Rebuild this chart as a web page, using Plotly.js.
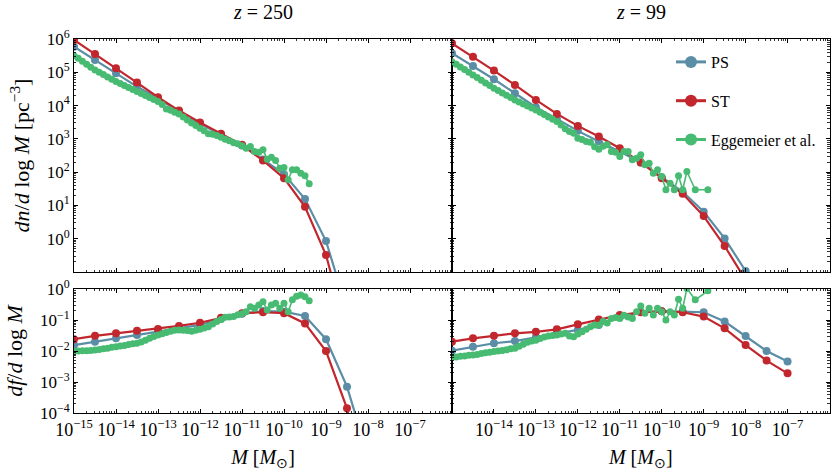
<!DOCTYPE html>
<html><head><meta charset="utf-8">
<script src="https://cdn.plot.ly/plotly-3.0.1.min.js"></script>
<style>html,body{margin:0;padding:0;background:#fff}#chart{width:834px;height:471px}</style>
</head><body><div id="chart"></div>
<script>
// ---- data (log10 values) ----
// analytic halo mass functions, z = 250 (left column)
const logM_z250 = [-15,-14.5,-14,-13.5,-13,-12.5,-12,-11.5,-11,-10.5,-10,-9.5,-9,-8.5,-8];
const PS_dn_z250 = [5.77,5.37,4.97,4.57,4.22,3.82,3.45,3.12,2.80,2.38,1.94,1.19,-0.07,-2.14,-4.9];
const ST_dn_z250 = [5.97,5.55,5.12,4.69,4.25,3.85,3.49,3.15,2.82,2.35,1.82,0.96,-0.49,-2.83,-6.0];
const PS_df_z250 = [-1.81,-1.70,-1.59,-1.48,-1.38,-1.27,-1.16,-0.97,-0.80,-0.71,-0.73,-0.87,-1.62,-3.15,-5.4];
const ST_df_z250 = [-1.62,-1.51,-1.43,-1.35,-1.29,-1.19,-1.09,-0.93,-0.78,-0.75,-0.78,-1.11,-2.00,-3.85,-7.0];

// analytic halo mass functions, z = 99 (right column)
const logM_z99 = [-15,-14.5,-14,-13.5,-13,-12.5,-12,-11.5,-11,-10.5,-10,-9.5,-9,-8.5,-8,-7.5,-7];
const PS_dn_z99 = [5.57,5.19,4.79,4.37,3.95,3.60,3.24,2.92,2.62,2.29,1.85,1.41,0.81,0.01,-0.97,-1.93,-2.77];
const ST_dn_z99 = [5.87,5.47,5.05,4.62,4.17,3.75,3.39,3.07,2.72,2.29,1.82,1.35,0.68,-0.22,-1.24,-2.24,-3.15];
const PS_df_z99 = [-1.99,-1.86,-1.75,-1.68,-1.56,-1.42,-1.32,-1.16,-0.91,-0.74,-0.72,-0.73,-0.75,-1.05,-1.52,-2.00,-2.34];
const ST_df_z99 = [-1.70,-1.59,-1.51,-1.43,-1.38,-1.30,-1.14,-0.98,-0.84,-0.75,-0.72,-0.75,-0.89,-1.27,-1.81,-2.31,-2.72];

// Eggemeier et al. simulation, z = 250
const logM_egg_z250 = [-15.0,-14.9,-14.8,-14.7,-14.6,-14.5,-14.4,-14.3,-14.2,-14.1,-14.0,-13.9,-13.8,-13.7,-13.6,-13.5,-13.4,-13.3,-13.2,-13.1,-13.0,-12.9,-12.8,-12.7,-12.6,-12.5,-12.4,-12.3,-12.2,-12.1,-12.0,-11.9,-11.8,-11.7,-11.6,-11.5,-11.4,-11.3,-11.2,-11.1,-11.0,-10.9,-10.8,-10.7,-10.6,-10.5,-10.4,-10.3,-10.2,-10.1,-10.0,-9.9,-9.8,-9.7,-9.6,-9.5,-9.4];
const Egg_dn_z250 = [5.50,5.42,5.33,5.24,5.15,5.07,5.00,4.93,4.86,4.79,4.72,4.66,4.60,4.54,4.48,4.42,4.36,4.30,4.24,4.18,4.12,4.03,3.90,3.86,3.80,3.75,3.66,3.57,3.48,3.40,3.32,3.24,3.15,3.14,3.10,3.05,2.99,2.94,2.88,2.85,2.79,2.72,2.77,2.62,2.60,2.67,2.39,2.45,2.35,2.12,2.14,1.77,2.07,2.07,1.97,1.89,1.65];
const Egg_df_z250 = [-2.00,-2.00,-1.99,-1.99,-1.98,-1.97,-1.95,-1.93,-1.91,-1.88,-1.86,-1.84,-1.82,-1.79,-1.77,-1.75,-1.71,-1.65,-1.59,-1.53,-1.48,-1.44,-1.40,-1.36,-1.33,-1.32,-1.33,-1.34,-1.36,-1.33,-1.30,-1.26,-1.22,-1.13,-1.05,-0.98,-0.91,-0.90,-0.89,-0.83,-0.80,-0.73,-0.57,-0.62,-0.52,-0.41,-0.68,-0.52,-0.46,-0.62,-0.46,-0.73,-0.35,-0.23,-0.19,-0.25,-0.38];

// Eggemeier et al. simulation, z = 99
const logM_egg_z99 = [-15.0,-14.9,-14.8,-14.7,-14.6,-14.5,-14.4,-14.3,-14.2,-14.1,-14.0,-13.9,-13.8,-13.7,-13.6,-13.5,-13.4,-13.3,-13.2,-13.1,-13.0,-12.9,-12.8,-12.7,-12.6,-12.5,-12.4,-12.3,-12.2,-12.1,-12.0,-11.9,-11.8,-11.7,-11.6,-11.5,-11.4,-11.3,-11.2,-11.1,-11.0,-10.9,-10.8,-10.7,-10.6,-10.5,-10.4,-10.3,-10.2,-10.1,-10.0,-9.9,-9.8,-9.7,-9.6,-9.5,-9.4,-9.2,-8.9];
const Egg_dn_z99 = [5.32,5.24,5.16,5.08,5.00,4.92,4.84,4.76,4.68,4.60,4.52,4.45,4.38,4.31,4.24,4.17,4.11,4.05,3.99,3.93,3.87,3.80,3.73,3.66,3.59,3.52,3.42,3.30,3.22,3.17,3.02,2.98,2.92,2.90,2.76,2.69,2.78,2.82,2.62,2.60,2.47,2.62,2.62,2.37,2.42,2.52,2.22,2.27,1.97,2.07,1.87,1.47,1.67,1.47,1.89,1.47,2.02,1.47,1.47];
const Egg_df_z99 = [-2.20,-2.19,-2.17,-2.16,-2.14,-2.13,-2.11,-2.08,-2.06,-2.04,-2.02,-2.00,-1.98,-1.96,-1.93,-1.91,-1.85,-1.78,-1.72,-1.68,-1.65,-1.60,-1.55,-1.52,-1.50,-1.48,-1.45,-1.43,-1.52,-1.54,-1.45,-1.38,-1.30,-1.22,-1.16,-1.16,-1.05,-1.10,-0.95,-0.92,-0.95,-0.85,-0.90,-0.95,-0.73,-0.55,-0.78,-0.62,-0.84,-0.62,-0.73,-1.00,-0.73,-0.84,-0.33,-0.62,0.02,-0.35,-0.06];

// tick label exponents
const xTickExp_left = [-15,-14,-13,-12,-11,-10,-9,-8,-7];
const xTickExp_right = [-14,-13,-12,-11,-10,-9,-8,-7];
const yTickExp_top = [0,1,2,3,4,5,6];
const yTickExp_bottom = [-4,-3,-2,-1,0];

const seriesNames = ['PS','ST','Eggemeier et al.'];
const colors = {PS:'#5b8ea6', ST:'#c1272d', Egg:'#48bb72'};

// ---- helpers ----
const pw = a => a.map(v => Math.pow(10, v));
const expLabel = e => '10<sup>' + (e < 0 ? '\u2212' + (-e) : e) + '</sup>';
function minorVals(lo, hi){ const v=[]; for(let e=lo;e<hi;e++) for(let k=2;k<=9;k++) v.push(k*Math.pow(10,e)); return v; }

const FONT = 'Liberation Serif, Times New Roman, serif';

function trace(xl, yl, name, col, xa, ya, egg){
  return {
    x: pw(xl), y: pw(yl), name: name, legendgroup: name, showlegend: false,
    xaxis: xa, yaxis: ya, type: 'scatter', mode: 'lines+markers',
    line: {color: col, width: egg ? 1.6 : 2.2},
    marker: {color: col, size: egg ? 7 : 8},
    cliponaxis: true
  };
}
// legend entries (larger symbols, like the reference legend)
function legendEntry(name, col){
  return {x: [null], y: [null], name: name, legendgroup: name, showlegend: true,
          xaxis: 'x2', yaxis: 'y2', type: 'scatter', mode: 'lines+markers',
          line: {color: col, width: 3}, marker: {color: col, size: 12}};
}

const data = [];
// PS
data.push(trace(logM_z250, PS_dn_z250, 'PS', colors.PS, 'x', 'y'));
data.push(trace(logM_z99, PS_dn_z99, 'PS', colors.PS, 'x2', 'y2'));
data.push(trace(logM_z250, PS_df_z250, 'PS', colors.PS, 'x3', 'y3'));
data.push(trace(logM_z99, PS_df_z99, 'PS', colors.PS, 'x4', 'y4'));
// ST
data.push(trace(logM_z250, ST_dn_z250, 'ST', colors.ST, 'x', 'y'));
data.push(trace(logM_z99, ST_dn_z99, 'ST', colors.ST, 'x2', 'y2'));
data.push(trace(logM_z250, ST_df_z250, 'ST', colors.ST, 'x3', 'y3'));
data.push(trace(logM_z99, ST_df_z99, 'ST', colors.ST, 'x4', 'y4'));
// Eggemeier
data.push(trace(logM_egg_z250, Egg_dn_z250, 'Eggemeier et al.', colors.Egg, 'x', 'y', true));
data.push(trace(logM_egg_z99, Egg_dn_z99, 'Eggemeier et al.', colors.Egg, 'x2', 'y2', true));
data.push(trace(logM_egg_z250, Egg_df_z250, 'Eggemeier et al.', colors.Egg, 'x3', 'y3', true));
data.push(trace(logM_egg_z99, Egg_df_z99, 'Eggemeier et al.', colors.Egg, 'x4', 'y4', true));
// legend
data.push(legendEntry(seriesNames[0], colors.PS));
data.push(legendEntry(seriesNames[1], colors.ST));
data.push(legendEntry(seriesNames[2], colors.Egg));

const W = 834, H = 471;
const xL = [74/W, 452/W], xR = [452/W, 829.5/W];
const yT = [1-272/H, 1-39/H], yB = [1-413/H, 1-289/H];

const minorStyle = v => ({ticks:'inside', ticklen:2.2, tickwidth:0.8, tickcolor:'#000', showgrid:false, tickmode:'array', tickvals: v});
function axBase(extra){
  return Object.assign({
    type: 'log', showline: true, linecolor: '#000', linewidth: 1, mirror: 'allticks',
    ticks: 'inside', ticklen: 4, tickwidth: 1, tickcolor: '#000',
    showgrid: false, zeroline: false, tickmode: 'array',
    tickfont: {family: FONT, size: 17, color: '#000'}
  }, extra);
}
const xMajorAll = [-15,-14,-13,-12,-11,-10,-9,-8,-7,-6];
const xMinor = minorVals(-15, -6);
const xTitle = {text: '<i>M</i> [<i>M</i><sub>\u2299</sub>]', font: {family: FONT, size: 20}, standoff: 16};
const xTickFont = {family: FONT, size: 18, color: '#000'};

const layout = {
  width: W, height: H, margin: {l:0, r:0, t:0, b:0},
  paper_bgcolor: '#fff', plot_bgcolor: '#fff',
  font: {family: FONT, color: '#000'},
  showlegend: true,
  legend: {x: 671/W, y: 1-45/H, xanchor: 'left', yanchor: 'top', bgcolor: 'rgba(0,0,0,0)',
           font: {family: FONT, size: 16, color: '#000'}, tracegroupgap: 15, itemwidth: 30},
  xaxis: axBase({domain: xL, anchor: 'y', range: [-15, -6], tickvals: pw(xMajorAll), showticklabels: false, minor: minorStyle(xMinor)}),
  xaxis2: axBase({domain: xR, anchor: 'y2', range: [-15, -6], tickvals: pw(xMajorAll), showticklabels: false, minor: minorStyle(xMinor)}),
  xaxis3: axBase({domain: xL, anchor: 'y3', range: [-15, -6], tickvals: pw(xTickExp_left), ticktext: xTickExp_left.map(expLabel),
                 tickfont: xTickFont, minor: minorStyle(xMinor), title: xTitle}),
  xaxis4: axBase({domain: xR, anchor: 'y4', range: [-15, -6], tickvals: pw(xTickExp_right), ticktext: xTickExp_right.map(expLabel),
                 tickfont: xTickFont, minor: minorStyle(xMinor), title: xTitle}),
  yaxis: axBase({domain: yT, anchor: 'x', range: [-1, 6], tickvals: pw(yTickExp_top), ticktext: yTickExp_top.map(expLabel),
                 minor: minorStyle(minorVals(-1, 6)),
                 title: {text: '<i>dn</i>/<i>d</i> log <i>M</i> [pc<sup>\u22123</sup>]', font: {family: FONT, size: 22}, standoff: 10}}),
  yaxis2: axBase({domain: yT, anchor: 'x2', range: [-1, 6], tickvals: pw([-1,0,1,2,3,4,5,6]), showticklabels: false,
                 minor: minorStyle(minorVals(-1, 6))}),
  yaxis3: axBase({domain: yB, anchor: 'x3', range: [-4, 0], tickvals: pw(yTickExp_bottom), ticktext: yTickExp_bottom.map(expLabel),
                 minor: minorStyle(minorVals(-4, 0)),
                 title: {text: '<i>df</i>/<i>d</i> log <i>M</i>', font: {family: FONT, size: 22}, standoff: 11}}),
  yaxis4: axBase({domain: yB, anchor: 'x4', range: [-4, 0], tickvals: pw(yTickExp_bottom), showticklabels: false,
                 minor: minorStyle(minorVals(-4, 0))}),
  annotations: [
    {text: '<i>z</i> = 250', xref: 'paper', yref: 'paper', x: (xL[0]+xL[1])/2, y: 1-12/H, showarrow: false,
     xanchor: 'center', yanchor: 'middle', font: {family: FONT, size: 20, color: '#000'}},
    {text: '<i>z</i> = 99', xref: 'paper', yref: 'paper', x: (xR[0]+xR[1])/2, y: 1-12/H, showarrow: false,
     xanchor: 'center', yanchor: 'middle', font: {family: FONT, size: 20, color: '#000'}}
  ]
};

Plotly.newPlot('chart', data, layout, {staticPlot: true, displayModeBar: false});
</script>
</body></html>
